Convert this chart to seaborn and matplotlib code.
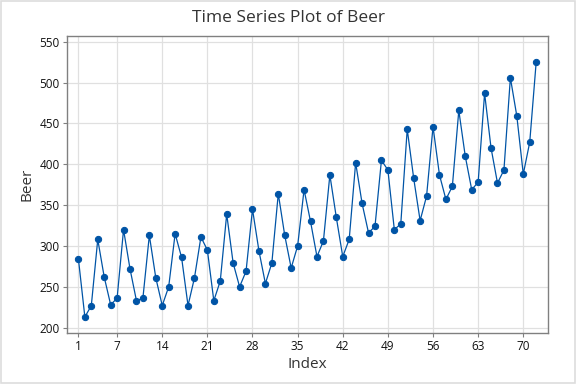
import numpy as np
import pandas as pd
import matplotlib
matplotlib.use("Agg")
import matplotlib.pyplot as plt
import seaborn as sns

# Beer values, in time order
beer = [
    284, 213, 227, 308, 262, 228, 236, 320, 272, 233,
    236, 313, 261, 227, 250, 315, 286, 227, 261, 311,
    295, 233, 257, 339, 279, 250, 269, 345, 294, 254,
    279, 364, 313, 273, 300, 369, 330, 287, 306, 387,
    335, 287, 308, 402, 352, 316, 324, 405, 393, 320,
    327, 443, 383, 331, 361, 446, 387, 357, 373, 466,
    410, 369, 378, 487, 420, 377, 393, 506, 459, 388,
    427, 525,
]
index = list(range(1, len(beer) + 1))
x_ticks = [1, 7, 14, 21, 28, 35, 42, 49, 56, 63, 70]
y_ticks = [200, 250, 300, 350, 400, 450, 500, 550]

df = pd.DataFrame({"Index": index, "Beer": beer})

sns.set_theme(style="white")
plt.rcParams["font.family"] = ["Open Sans", "DejaVu Sans"]

fig = plt.figure(figsize=(5.76, 3.84), dpi=100)
ax = fig.add_axes([0.116, 0.133, 0.835, 0.773])

blue = "#0054A6"
sns.lineplot(data=df, x="Index", y="Beer", ax=ax, color=blue, linewidth=0.9,
             marker="o", markersize=4.5, markeredgecolor=blue, zorder=3)

ax.set_xlim(-0.8, 73.8)
ax.set_ylim(193.5, 557)
ax.set_xticks(x_ticks)
ax.set_yticks(y_ticks)
ax.grid(True, color="#e0e0e0", linewidth=0.9)
ax.set_axisbelow(True)
for s in ax.spines.values():
    s.set_color("#808080")
    s.set_linewidth(1)
ax.tick_params(axis="both", which="both", direction="out", length=3, width=0.8,
               color="#808080", labelsize=8.5, labelcolor="#111111", pad=2,
               bottom=True, left=True)

ax.set_xlabel("Index", fontsize=11, color="#333333", labelpad=3)
ax.set_ylabel("Beer", fontsize=11, color="#333333", labelpad=4)
fig.text(0.5, 1 - 18 / 384, "Time Series Plot of Beer", fontsize=12.5,
         color="#333333", ha="center", va="center")

# light frame round the figure
fig.patches.append(plt.Rectangle((0.002, 0.003), 0.996, 0.994, transform=fig.transFigure,
                                 fill=False, edgecolor="#dddddd", linewidth=1.2))

fig.savefig("out.png", dpi=100)
